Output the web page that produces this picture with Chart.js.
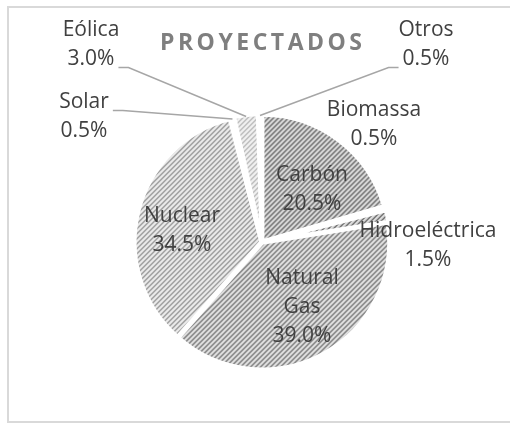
<!DOCTYPE html>
<html>
<head>
<meta charset="utf-8">
<script src="https://cdn.jsdelivr.net/npm/chart.js@4.4.1/dist/chart.umd.min.js"></script>
<style>
  html, body { margin: 0; padding: 0; background: #fff; }
  #wrap { position: relative; width: 510px; height: 423px; overflow: hidden; }
  #marco { position: absolute; left: 7px; top: 6px; width: 530px; height: 417px; border: 2px solid #d9d9d9; box-sizing: border-box; }
  #grafico { position: absolute; left: 0; top: 0; }
</style>
</head>
<body>
<div id="wrap">
  <div id="marco"></div>
  <canvas id="grafico" width="510" height="423"></canvas>
</div>
<script>
// datos
const titulo = 'PROYECTADOS';
const categorias = ['Carbón', 'Biomassa', 'Hidroeléctrica', 'Natural Gas', 'Nuclear', 'Solar', 'Eólica', 'Otros'];
const porcentajes = [20.5, 0.5, 1.5, 39.0, 34.5, 0.5, 3.0, 0.5];

// rayado diagonal tipo Excel
function rayado(fondo, linea, paso, grosor) {
    var c = document.createElement('canvas');
    c.width = paso;
    c.height = paso;
    var g = c.getContext('2d');
    g.fillStyle = fondo;
    g.fillRect(0, 0, paso, paso);
    g.fillStyle = linea;
    for (var x = 0; x < paso; x++) {
        for (var y = 0; y < paso; y++) {
            if ((x + y) % paso < grosor) g.fillRect(x, y, 1, 1);
        }
    }
    return g.createPattern(c, 'repeat');
}

var ctx = document.getElementById('grafico').getContext('2d');

var colores = [
    rayado('#dcdcdc', '#6c6c6c', 5, 2),   // Carbón
    rayado('#e0e0e0', '#888888', 5, 2),   // Biomassa
    rayado('#dcdcdc', '#707070', 5, 2),   // Hidroeléctrica
    rayado('#e2e2e2', '#7a7a7a', 5, 2),   // Natural Gas
    rayado('#ebebeb', '#9c9c9c', 5, 2),   // Nuclear
    rayado('#ebebeb', '#aaaaaa', 5, 2),   // Solar
    rayado('#f0f0f0', '#bdbdbd', 5, 2),   // Eólica
    rayado('#ebebeb', '#aaaaaa', 5, 2)    // Otros
];

// posicion de cada etiqueta respecto al centro del pastel
var posEtiquetas = [[50, -52], [112, -117], [166, 4], [40, 65], [-80, -11], [-178, -125], [-171, -197], [164, -197]];
// linea guia: indice de linea de texto a la que se une (null = sin guia)
var guias = [null, null, null, null, null, 0, 1, 1];

var fuente = '21px "Open Sans"';
var altoLinea = 29;

var etiquetasPlugin = {
    id: 'etiquetas',
    afterDatasetsDraw: function (chart) {
        var c = chart.ctx;
        var arcos = chart.getDatasetMeta(0).data;
        var cx = arcos[0].x, cy = arcos[0].y;
        c.save();

        // titulo con espaciado
        c.font = 'bold 23px "Open Sans"';
        c.fillStyle = '#7f7f7f';
        c.textBaseline = 'middle';
        c.textAlign = 'left';
        var anchoTotal = 202;
        var anchoTexto = c.measureText(titulo).width;
        var esp = (anchoTotal - anchoTexto) / (titulo.length - 1);
        var xt = 261 - anchoTotal / 2;
        for (var k = 0; k < titulo.length; k++) {
            c.fillText(titulo[k], xt, 43);
            xt += c.measureText(titulo[k]).width + esp;
        }

        c.font = fuente;
        c.fillStyle = '#404040';
        c.textAlign = 'center';
        arcos.forEach(function (arco, i) {
            var nombre = categorias[i];
            var lineas = (i === 3) ? nombre.split(' ') : [nombre];
            lineas.push(porcentajes[i].toFixed(1) + '%');
            var bx = cx + posEtiquetas[i][0];
            var by = cy + posEtiquetas[i][1];
            var y0 = by - (lineas.length - 1) * altoLinea / 2;
            lineas.forEach(function (t, j) {
                c.fillText(t, bx, y0 + j * altoLinea);
            });

            if (guias[i] !== null) {
                var j = guias[i];
                var w = c.measureText(lineas[j]).width;
                var ly = y0 + j * altoLinea + 8;
                var izq = posEtiquetas[i][0] < 0;
                var x1 = izq ? bx + w / 2 + 4 : bx - w / 2 - 4;
                var x2 = izq ? x1 + 10 : x1 - 10;
                var medio = (arco.startAngle + arco.endAngle) / 2;
                var r = arco.outerRadius;
                var ex = cx + Math.cos(medio) * r;
                var ey = cy + Math.sin(medio) * r;
                c.strokeStyle = '#a6a6a6';
                c.lineWidth = 1.5;
                c.beginPath();
                c.moveTo(x1, ly);
                c.lineTo(x2, ly);
                c.lineTo(ex, ey);
                c.stroke();
            }
        });
        c.restore();
    }
};

var grafico = new Chart(ctx, {
    type: 'pie',
    data: {
        labels: categorias,
        datasets: [{
            data: porcentajes,
            backgroundColor: colores,
            borderColor: '#ffffff',
            borderWidth: 4,
            offset: 3
        }]
    },
    options: {
        responsive: false,
        animation: false,
        layout: {
            padding: { top: 112, bottom: 51, left: 62, right: 48 }
        },
        plugins: {
            legend: { display: false },
            tooltip: { enabled: false },
            title: { display: false }
        }
    },
    plugins: [etiquetasPlugin]
});
</script>
</body>
</html>
